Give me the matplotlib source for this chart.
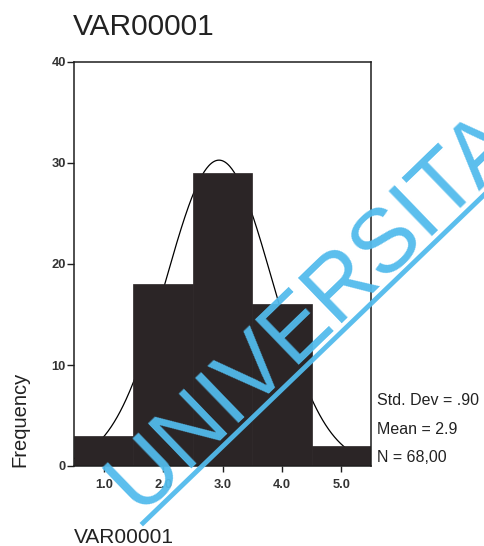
import numpy as np
import matplotlib
matplotlib.use("Agg")
import matplotlib.pyplot as plt
from matplotlib.lines import Line2D

plt.rcParams['font.family'] = ['Liberation Sans', 'DejaVu Sans']

# Histogram data: value categories and their frequencies
categories = [1.0, 2.0, 3.0, 4.0, 5.0]
frequencies = [3, 18, 29, 16, 2]
x_tick_labels = ["1.0", "2.0", "3.0", "4.0", "5.0"]
y_ticks = [0, 10, 20, 30, 40]
variable_name = "VAR00001"
watermark_text = "UNIVERSITAS"

cats = np.array(categories)
freqs = np.array(frequencies)
n = freqs.sum()
mean = (cats * freqs).sum() / n
sd = np.sqrt(((cats - mean) ** 2 * freqs).sum() / (n - 1))
bin_width = 1.0

fig = plt.figure(figsize=(4.85, 5.46), dpi=100)
fig.patch.set_facecolor("white")
ax = fig.add_axes([74 / 485, 1 - 466 / 546, 297 / 485, 404 / 546])

bar_color = "#2b2526"
ax.bar(cats, freqs, width=bin_width, color=bar_color, edgecolor=bar_color,
       linewidth=0.5, zorder=3)

# Fitted normal curve scaled to counts
xs = np.linspace(0.5, 5.5, 400)
ys = n * bin_width / (sd * np.sqrt(2 * np.pi)) * np.exp(-0.5 * ((xs - mean) / sd) ** 2)
ax.plot(xs, ys, color="black", linewidth=0.9, zorder=2)

ax.set_xlim(0.5, 5.5)
ax.set_ylim(0, 40)
ax.set_xticks(categories)
ax.set_xticklabels(x_tick_labels)
ax.set_yticks(y_ticks)
ax.set_yticklabels([str(v) for v in y_ticks])

for s in ax.spines.values():
    s.set_linewidth(1.1)
    s.set_color("#1e1e1e")
    s.set_zorder(4)

ax.tick_params(axis="x", length=4, width=1.0, pad=5, labelsize=9.3,
               colors="#1e1e1e", labelcolor="#333333")
ax.tick_params(axis="y", length=5, width=1.0, pad=1, labelsize=9.3,
               colors="#1e1e1e", labelcolor="#333333")
for lbl in ax.get_xticklabels() + ax.get_yticklabels():
    lbl.set_fontweight("bold")

# Titles and axis labels
fig.text(73 / 485, 1 - 35 / 546, variable_name, fontsize=21.5, color="#222222",
         ha="left", va="baseline")
fig.text(74 / 485, 1 - 543 / 546, variable_name, fontsize=15, color="#222222",
         ha="left", va="baseline")
fig.text(20 / 485, 1 - 419 / 546, "Frequency", fontsize=14.5, color="#222222",
         rotation=90, ha="center", va="center")

# Summary statistics
sd_txt = f"{sd:.2f}".lstrip("0")
stats = [f"Std. Dev = {sd_txt}", f"Mean = {mean:.1f}",
         f"N = {n:.2f}".replace(".", ",")]
for i, t in enumerate(stats):
    fig.text(377 / 485, 1 - (405 + 28.5 * i) / 546, t, fontsize=11.5,
             color="#222222", ha="left", va="baseline")

# Diagonal watermark
wm_color = "#52bbec"
angle = 44
fig.text(138 / 485, 1 - 513 / 546, watermark_text, fontsize=64.5, color=wm_color,
         rotation=angle, rotation_mode="anchor", ha="left", va="baseline",
         zorder=10, alpha=0.95)
fig.add_artist(Line2D([143 / 485, 1.0], [1 - 523 / 546, 1 - 194 / 546],
                      transform=fig.transFigure, color=wm_color,
                      linewidth=3.5, alpha=0.95, zorder=10))

fig.savefig("out.png", dpi=100, facecolor="white")
